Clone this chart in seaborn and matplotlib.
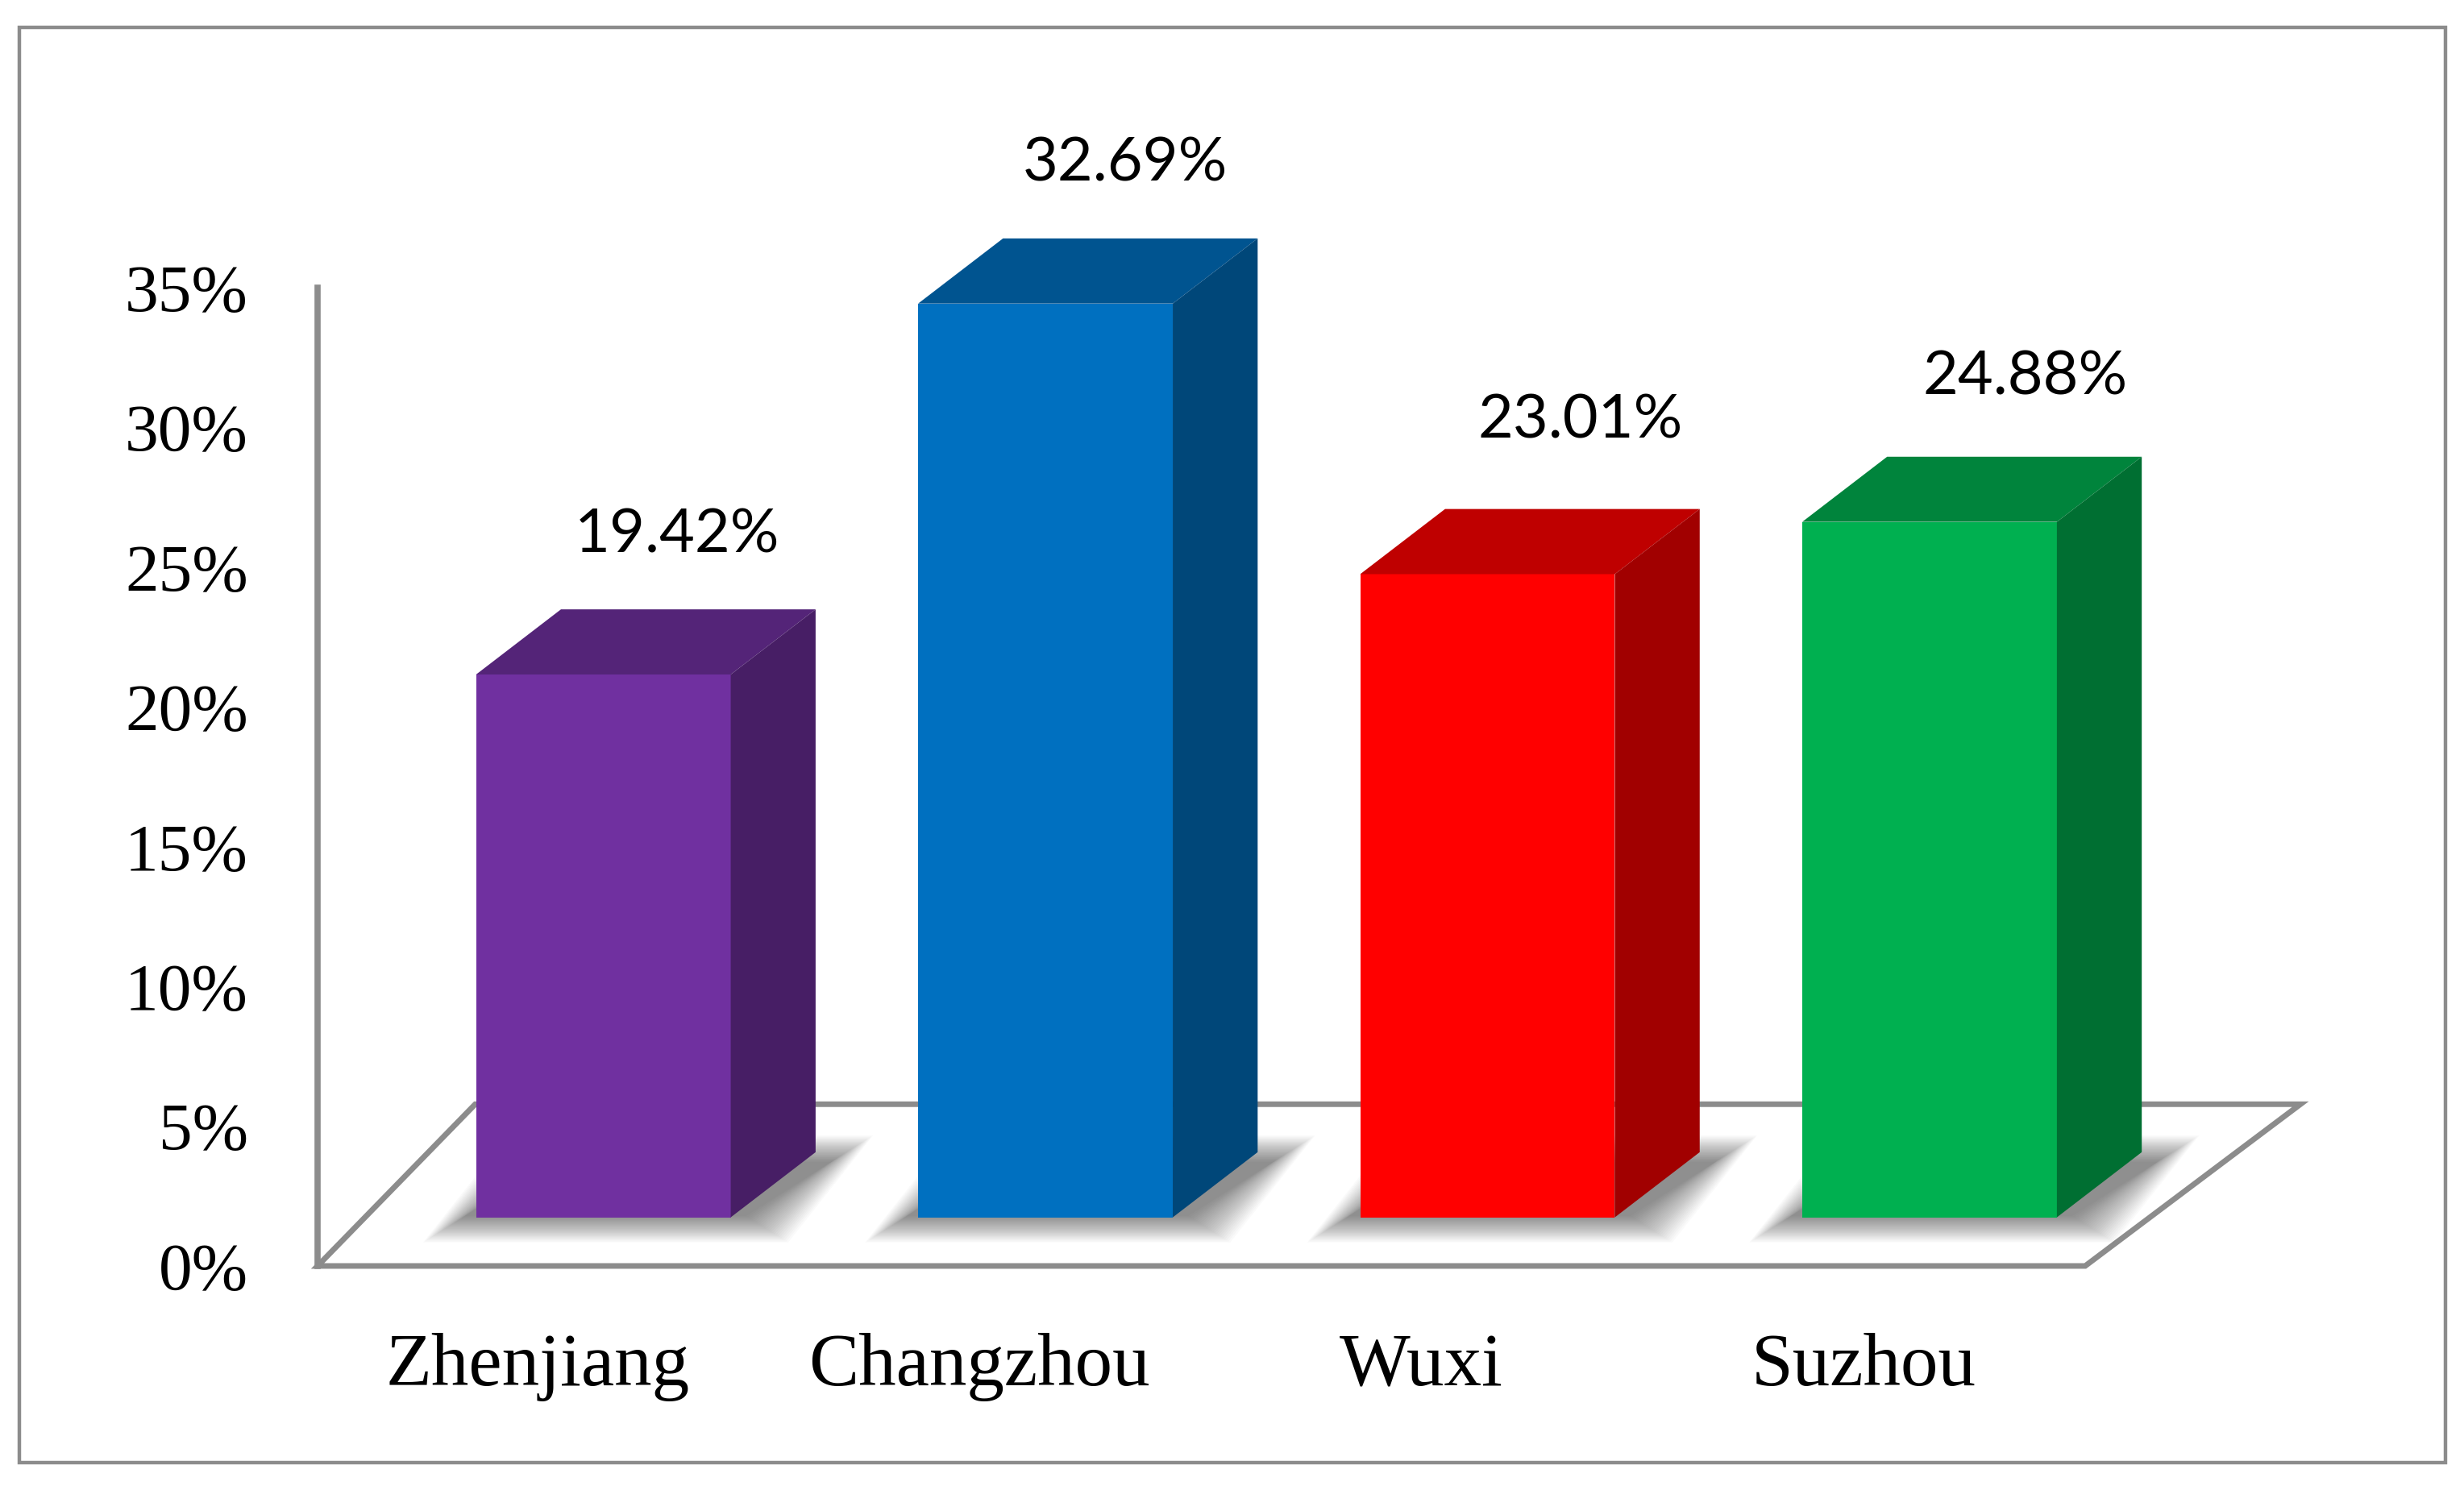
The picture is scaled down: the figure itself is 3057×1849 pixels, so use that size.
import numpy as np
import seaborn as sns
import matplotlib.pyplot as plt
from matplotlib.patches import Polygon, Rectangle
from matplotlib.colors import to_rgb

# Datos
cities = ['Zhenjiang', 'Changzhou', 'Wuxi', 'Suzhou']
shares = [19.42, 32.69, 23.01, 24.88]
colors = ['#7030A0', '#0070C0', '#FF0000', '#00B050']
y_ticks = [0, 5, 10, 15, 20, 25, 30, 35]

# Falso 3D, en unidades de los ejes
DEPTH_X = 0.192
DEPTH_Y = 2.33
FLOOR_Y = 1.74
GREY = '#8c8c8c'

label_dx = [0.167, 0.181, 0.21, 0.217]
label_dy = [5.0, 5.0, 5.5, 5.17]

sns.set_style('white')
W, H = 3057, 1849
fig = plt.figure(figsize=(W / 100 + 0.001, H / 100 + 0.001), dpi=100)
fig.patch.set_facecolor('white')
ax = fig.add_axes([394 / W, 1 - 1571 / H, (2854 - 394) / W, (1571 - 357) / H])
ax.patch.set_alpha(0)

sns.barplot(x=cities, y=shares, hue=cities, palette=colors, width=0.576,
            saturation=1, bottom=FLOOR_Y, legend=False, ax=ax, zorder=3,
            clip_on=False, linewidth=0)
bars = list(ax.patches)

ax.set_xlim(-0.6466, 3.839)
ax.set_ylim(0, 35)

# Piso
floor_back = (806 - 703) / 17.8
ax.add_patch(Polygon([(-0.6466, 0), (3.352, 0), (3.839, floor_back), (-0.29, floor_back)],
                     closed=True, fill=False, edgecolor=GREY, linewidth=5,
                     joinstyle='miter', zorder=1, clip_on=False))

# Caras laterales, sombras y etiquetas
for i, patch in enumerate(bars):
    x0 = patch.get_x()
    x1 = x0 + patch.get_width()
    yb = patch.get_y()
    yt = yb + patch.get_height()
    rgb = np.array(to_rgb(colors[i]))

    ax.add_patch(Polygon([(x0, yt), (x1, yt), (x1 + DEPTH_X, yt + DEPTH_Y), (x0 + DEPTH_X, yt + DEPTH_Y)],
                         facecolor=rgb * 0.75, edgecolor='none', zorder=3, clip_on=False))
    ax.add_patch(Polygon([(x1, yb), (x1 + DEPTH_X, yb + DEPTH_Y), (x1 + DEPTH_X, yt + DEPTH_Y), (x1, yt)],
                         facecolor=rgb * 0.63, edgecolor='none', zorder=3, clip_on=False))

    # sombra difusa: poligonos apilados con poca opacidad
    for grow in np.linspace(0.06, -0.035, 26):
        gy = grow * 10
        ax.add_patch(Polygon([(x0 - 0.06 - grow, yb - 0.3 - gy),
                              (x1 + 0.07 + grow, yb - 0.3 - gy),
                              (x1 + 0.07 + DEPTH_X + grow, yb + DEPTH_Y + gy),
                              (x0 - 0.06 + DEPTH_X - grow, yb + DEPTH_Y + gy)],
                             facecolor='black', alpha=0.02, edgecolor='none', zorder=2))

    ax.text(x0 + patch.get_width() / 2 + label_dx[i], yt + label_dy[i], f'{shares[i]:.2f}%',
            ha='center', va='center', fontsize=54.5, family=['Lato', 'DejaVu Sans'],
            color='black', clip_on=False)

# Ejes
sns.despine(ax=ax, left=False, bottom=True, top=True, right=True)
ax.spines['left'].set_color(GREY)
ax.spines['left'].set_linewidth(5.5)
ax.set_yticks(y_ticks, [f'{t}%' for t in y_ticks])
ax.set_xticks(np.arange(len(cities)) - 0.149, cities)
ax.tick_params(axis='y', length=0, pad=62, labelsize=60, labelcolor='black')
ax.tick_params(axis='x', length=0, pad=60, labelsize=67, labelcolor='black')
for t in ax.get_xticklabels() + ax.get_yticklabels():
    t.set_fontfamily(['Liberation Serif', 'DejaVu Serif'])
ax.set_xlabel('')
ax.set_ylabel('')

# Marco exterior
fig.add_artist(Rectangle((24 / W, 1 - 1815 / H), (3034 - 24) / W, (1815 - 34) / H,
                         transform=fig.transFigure, fill=False, edgecolor=GREY, linewidth=3.2))

fig.savefig('out.png', dpi=100)
